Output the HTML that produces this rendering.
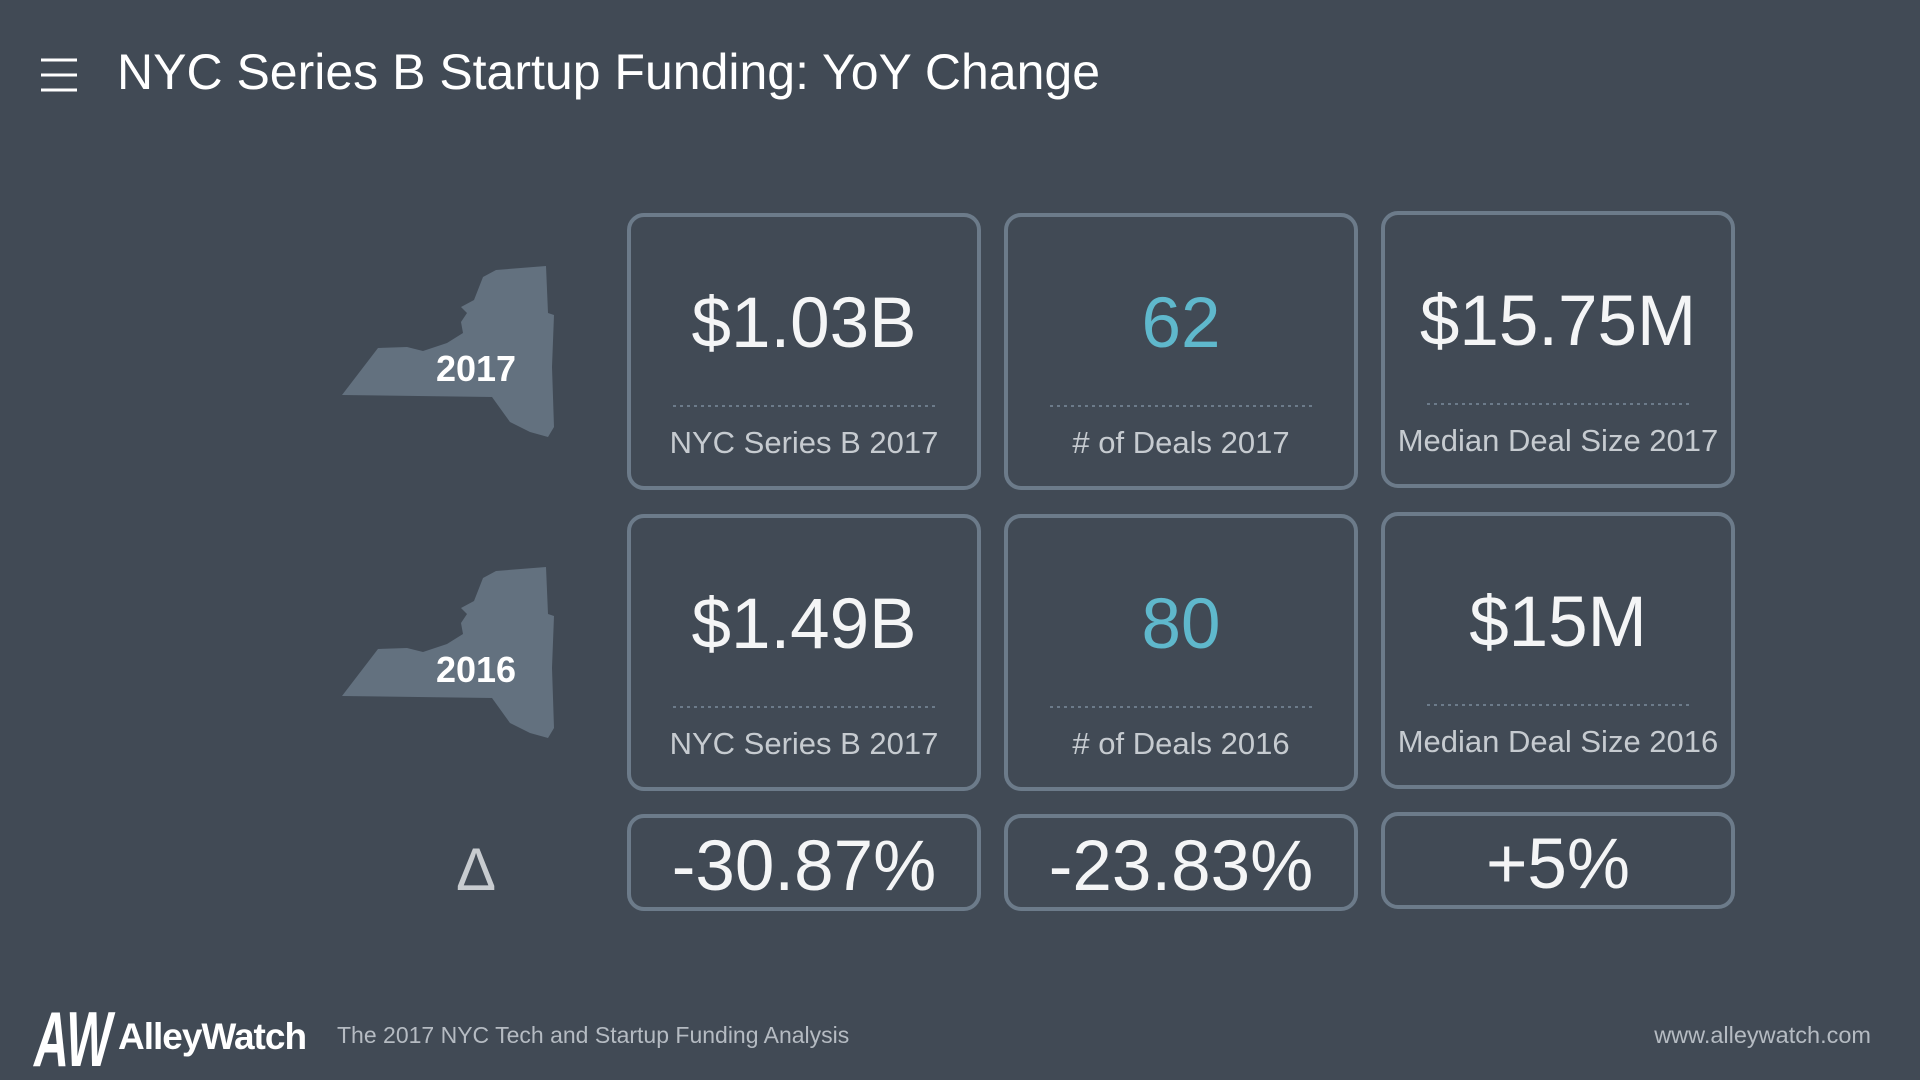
<!DOCTYPE html>
<html><head><meta charset="utf-8"><style>
html,body{margin:0;padding:0;background:#414a55;}
svg{display:block}
text{font-family:"Liberation Sans",sans-serif}
</style></head><body>
<svg width="1920" height="1080" viewBox="0 0 1920 1080" xmlns="http://www.w3.org/2000/svg">
<rect width="1920" height="1080" fill="#414a55"/>
<g stroke="#ffffff" stroke-width="3">
<line x1="41" y1="60" x2="77" y2="60"/><line x1="41" y1="75" x2="77" y2="75"/><line x1="41" y1="90" x2="77" y2="90"/>
</g>
<text x="117" y="89" font-size="50" fill="#ffffff">NYC Series B Startup Funding: YoY Change</text>

<defs>
<path id="ny" d="M342,395 L378,348 L407,347 L423,351 L447,343 L463,333 L461,322 L467,313 L461,307 L474,300 L483,277 L496,270 L546,266 L548,313 L554,315 L552,367 L554,427 L548,437 L530,432 L510,422 L492,397 Z"/>
</defs>
<use href="#ny" fill="#63717f"/>
<use href="#ny" fill="#63717f" transform="translate(0,301)"/>
<text x="476" y="381" font-size="36" font-weight="bold" fill="#ffffff" text-anchor="middle">2017</text>
<text x="476" y="682" font-size="36" font-weight="bold" fill="#ffffff" text-anchor="middle">2016</text>
<text x="476" y="890" font-size="60" fill="#c8ccd0" text-anchor="middle">Δ</text>

<g fill="none" stroke="#6c7b8a" stroke-width="4">
<rect x="629" y="215" width="350" height="273" rx="15"/>
<rect x="1006" y="215" width="350" height="273" rx="15"/>
<rect x="1383" y="213" width="350" height="273" rx="15"/>
<rect x="629" y="516" width="350" height="273" rx="15"/>
<rect x="1006" y="516" width="350" height="273" rx="15"/>
<rect x="1383" y="514" width="350" height="273" rx="15"/>
<rect x="629" y="816" width="350" height="93" rx="15"/>
<rect x="1006" y="816" width="350" height="93" rx="15"/>
<rect x="1383" y="814" width="350" height="93" rx="15"/>
</g>
<g stroke="#6c7b8a" stroke-width="2" stroke-dasharray="3,4">
<line x1="673" y1="406" x2="935" y2="406"/><line x1="1050" y1="406" x2="1312" y2="406"/><line x1="1427" y1="404" x2="1689" y2="404"/>
<line x1="673" y1="707" x2="935" y2="707"/><line x1="1050" y1="707" x2="1312" y2="707"/><line x1="1427" y1="705" x2="1689" y2="705"/>
</g>
<g font-size="71" text-anchor="middle" fill="#f4f5f6">
<text x="804" y="347">$1.03B</text>
<text x="1181" y="347" fill="#5fb8cc">62</text>
<text x="1558" y="345">$15.75M</text>
<text x="804" y="648">$1.49B</text>
<text x="1181" y="648" fill="#5fb8cc">80</text>
<text x="1558" y="646">$15M</text>
<text x="804" y="890">-30.87%</text>
<text x="1181" y="890">-23.83%</text>
<text x="1558" y="888">+5%</text>
</g>
<g font-size="31" text-anchor="middle" fill="#c6cbd0">
<text x="804" y="453">NYC Series B 2017</text>
<text x="1181" y="453"># of Deals 2017</text>
<text x="1558" y="451">Median Deal Size 2017</text>
<text x="804" y="754">NYC Series B 2017</text>
<text x="1181" y="754"># of Deals 2016</text>
<text x="1558" y="752">Median Deal Size 2016</text>
</g>

<text x="34" y="1066" font-size="78" font-weight="bold" fill="#ffffff" font-style="italic" textLength="78" lengthAdjust="spacingAndGlyphs">AW</text>
<text x="118" y="1049" font-size="37" font-weight="bold" fill="#ffffff" letter-spacing="-1">AlleyWatch</text>
<text x="337" y="1043" font-size="23" fill="#b5bbc2">The 2017 NYC Tech and Startup Funding Analysis</text>
<text x="1871" y="1043" font-size="23.5" fill="#b5bbc2" text-anchor="end">www.alleywatch.com</text>
</svg>
</body></html>
